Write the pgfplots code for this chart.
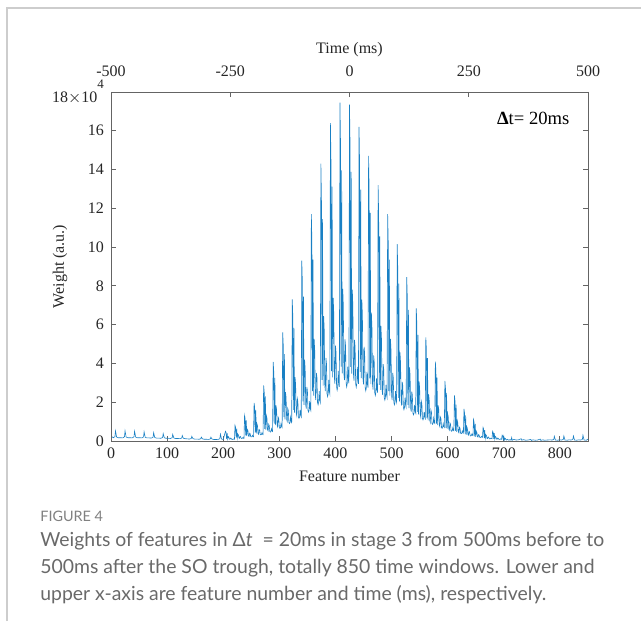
\documentclass[border=0pt]{standalone}
\usepackage{fontspec}
\setmainfont{Liberation Serif}
\newfontfamily\capfont{Lato}
\usepackage{pgfplots}
\pgfplotsset{compat=1.18}
\definecolor{mblue}{RGB}{0,114,189}
\definecolor{axgray}{RGB}{100,100,100}
\definecolor{labgray}{RGB}{38,38,38}
\definecolor{capgray}{RGB}{105,105,105}
\definecolor{framegray}{RGB}{205,205,205}

\pgfplotsset{
  wbox/.style={
    at={(0,0)}, anchor=south west, scale only axis,
    width=238.5pt, height=174.5pt,
    tick align=inside, major tick length=2.5pt,
    axis line style={axgray, line width=0.45pt},
    tick style={axgray, line width=0.45pt},
    tick label style={font=\fontsize{8}{9}\selectfont, text=labgray},
    label style={font=\fontsize{8}{9}\selectfont, text=labgray},
    /pgf/number format/assume math mode=true,
  }
}

\begin{document}
\begin{tikzpicture}[x=1pt,y=1pt]
\useasboundingbox (-55.5,-90) rectangle (265,220.5);
\draw[framegray, line width=0.8pt] (-52,-90) -- (-52,216.5) -- (265.5,216.5);

\begin{axis}[wbox,
  xmin=0, xmax=850, ymin=0, ymax=18,
  xtick={0,100,...,800}, ytick={0,2,...,18},
  yticklabels={0,2,4,6,8,10,12,14,16,{\raisebox{-4pt}{18$\times$10}\raisebox{3pt}{\fontsize{6.5}{7}\selectfont 4}}},
  xtick pos=left, xticklabel pos=left, ytick pos=both, yticklabel pos=left,
  xlabel={Feature number}, ylabel={Weight (a.u.)},
  xlabel style={at={(axis description cs:0.5,-0.1)}, anchor=center},
  ylabel style={at={(axis description cs:-0.107,0.5)}, anchor=center},
]
\addplot[mblue!90!white, line width=0.3pt] coordinates {
(0,0.25)(4,0.17)(7,0.22)(8,0.52)(10,0.2)(13,0.17)
(17,0.17)(21,0.16)(24,0.22)(25,0.52)(27,0.2)(30,0.17)
(34,0.17)(38,0.16)(41,0.22)(42,0.50)(44,0.2)(47,0.17)
(51,0.17)(55,0.16)(58,0.21)(59,0.47)(61,0.19)(64,0.16)
(68,0.16)(72,0.15)(75,0.2)(76,0.43)(78,0.18)(81,0.15)
(85,0.15)(89,0.14)(92,0.18)(93,0.38)(95,0.17)(98,0.14)
(102,0.14)(106,0.13)(109,0.17)(110,0.34)(112,0.15)(115,0.13)
(119,0.13)(123,0.12)(126,0.15)(127,0.28)(129,0.14)(132,0.12)
(136,0.11)(140,0.1)(143,0.13)(144,0.24)(146,0.12)(149,0.1)
(153,0.1)(157,0.09)(160,0.12)(161,0.2)(163,0.11)(166,0.09)
(170,0.09)(174,0.08)(177,0.11)(178,0.2)(180,0.1)(183,0.08)
(187,0.08)(190,0.07)(194,0.12)(195,0.35)(197,0.1)(200,0.08)
(204,0.50)(205,0.44)(206,0.11)(207,0.40)(208,0.10)(209,0.23)(210,0.20)(211,0.10)(212,0.09)(213,0.15)(214,0.14)(215,0.09)(216,0.08)(217,0.09)(218,0.11)(219,0.09)(220,0.09)
(221,0.80)(222,0.70)(223,0.18)(224,0.64)(225,0.16)(226,0.36)(227,0.32)(228,0.16)(229,0.14)(230,0.24)(231,0.22)(232,0.14)(233,0.13)(234,0.14)(235,0.18)(236,0.14)(237,0.14)
(238,1.32)(239,1.16)(240,0.29)(241,1.06)(242,0.26)(243,0.59)(244,0.53)(245,0.26)(246,0.24)(247,0.40)(248,0.37)(249,0.22)(250,0.21)(251,0.22)(252,0.29)(253,0.24)(254,0.22)
(255,1.97)(256,1.73)(257,0.43)(258,1.58)(259,0.39)(260,0.89)(261,0.79)(262,0.39)(263,0.35)(264,0.59)(265,0.55)(266,0.33)(267,0.32)(268,0.33)(269,0.43)(270,0.35)(271,0.33)
(272,2.87)(273,2.53)(274,0.63)(275,2.30)(276,0.57)(277,1.29)(278,1.15)(279,0.57)(280,0.52)(281,0.86)(282,0.80)(283,0.49)(284,0.46)(285,0.49)(286,0.63)(287,0.52)(288,0.49)
(289,4.08)(290,3.59)(291,0.90)(292,3.26)(293,0.82)(294,1.84)(295,1.63)(296,0.82)(297,0.73)(298,1.22)(299,1.14)(300,0.69)(301,0.65)(302,0.69)(303,0.90)(304,0.73)(305,0.69)
(306,5.60)(307,4.93)(308,1.23)(309,4.48)(310,1.12)(311,2.52)(312,2.24)(313,1.12)(314,1.01)(315,1.68)(316,1.57)(317,0.95)(318,0.90)(319,0.95)(320,1.23)(321,1.01)(322,0.95)
(323,7.30)(324,6.42)(325,1.61)(326,5.84)(327,1.46)(328,3.29)(329,2.92)(330,1.46)(331,1.31)(332,2.19)(333,2.04)(334,1.24)(335,1.17)(336,1.24)(337,1.61)(338,1.31)(339,1.24)
(340,9.30)(341,8.18)(342,2.05)(343,7.44)(344,1.86)(345,4.19)(346,3.72)(347,1.86)(348,1.67)(349,2.79)(350,2.60)(351,1.58)(352,1.49)(353,1.58)(354,2.05)(355,1.67)(356,1.58)
(357,11.70)(358,10.30)(359,2.57)(360,9.36)(361,2.34)(362,5.27)(363,4.68)(364,2.34)(365,2.11)(366,3.51)(367,3.28)(368,1.99)(369,1.87)(370,1.99)(371,2.57)(372,2.11)(373,1.99)
(374,14.30)(375,12.58)(376,3.15)(377,11.44)(378,2.86)(379,6.44)(380,5.72)(381,2.86)(382,2.57)(383,4.29)(384,4.00)(385,2.43)(386,2.29)(387,2.43)(388,3.15)(389,2.57)(390,2.43)
(391,16.40)(392,14.43)(393,3.61)(394,13.12)(395,3.28)(396,7.38)(397,6.56)(398,3.28)(399,2.95)(400,4.92)(401,4.59)(402,2.79)(403,2.62)(404,2.79)(405,3.61)(406,2.95)(407,2.79)
(408,17.45)(409,15.36)(410,3.84)(411,13.96)(412,3.49)(413,7.85)(414,6.98)(415,3.49)(416,3.14)(417,5.24)(418,4.89)(419,2.97)(420,2.79)(421,2.97)(422,3.84)(423,3.14)(424,2.97)
(425,17.35)(426,15.27)(427,3.82)(428,13.88)(429,3.47)(430,7.81)(431,6.94)(432,3.47)(433,3.12)(434,5.21)(435,4.86)(436,2.95)(437,2.78)(438,2.95)(439,3.82)(440,3.12)(441,2.95)
(442,16.20)(443,14.26)(444,3.56)(445,12.96)(446,3.24)(447,7.29)(448,6.48)(449,3.24)(450,2.92)(451,4.86)(452,4.54)(453,2.75)(454,2.59)(455,2.75)(456,3.56)(457,2.92)(458,2.75)
(459,14.70)(460,12.94)(461,3.23)(462,11.76)(463,2.94)(464,6.62)(465,5.88)(466,2.94)(467,2.65)(468,4.41)(469,4.12)(470,2.50)(471,2.35)(472,2.50)(473,3.23)(474,2.65)(475,2.50)
(476,13.20)(477,11.62)(478,2.90)(479,10.56)(480,2.64)(481,5.94)(482,5.28)(483,2.64)(484,2.38)(485,3.96)(486,3.70)(487,2.24)(488,2.11)(489,2.24)(490,2.90)(491,2.38)(492,2.24)
(493,11.70)(494,10.30)(495,2.57)(496,9.36)(497,2.34)(498,5.27)(499,4.68)(500,2.34)(501,2.11)(502,3.51)(503,3.28)(504,1.99)(505,1.87)(506,1.99)(507,2.57)(508,2.11)(509,1.99)
(510,10.15)(511,8.93)(512,2.23)(513,8.12)(514,2.03)(515,4.57)(516,4.06)(517,2.03)(518,1.83)(519,3.05)(520,2.84)(521,1.73)(522,1.62)(523,1.73)(524,2.23)(525,1.83)(526,1.73)
(527,8.45)(528,7.44)(529,1.86)(530,6.76)(531,1.69)(532,3.80)(533,3.38)(534,1.69)(535,1.52)(536,2.54)(537,2.37)(538,1.44)(539,1.35)(540,1.44)(541,1.86)(542,1.52)(543,1.44)
(544,6.84)(545,6.02)(546,1.50)(547,5.47)(548,1.37)(549,3.08)(550,2.74)(551,1.37)(552,1.23)(553,2.05)(554,1.92)(555,1.16)(556,1.09)(557,1.16)(558,1.50)(559,1.23)(560,1.16)
(561,5.35)(562,4.71)(563,1.18)(564,4.28)(565,1.07)(566,2.41)(567,2.14)(568,1.07)(569,0.96)(570,1.61)(571,1.50)(572,0.91)(573,0.86)(574,0.91)(575,1.18)(576,0.96)(577,0.91)
(578,4.09)(579,3.60)(580,0.90)(581,3.27)(582,0.82)(583,1.84)(584,1.64)(585,0.82)(586,0.74)(587,1.23)(588,1.15)(589,0.70)(590,0.65)(591,0.70)(592,0.90)(593,0.74)(594,0.70)
(595,3.10)(596,2.73)(597,0.68)(598,2.48)(599,0.62)(600,1.40)(601,1.24)(602,0.62)(603,0.56)(604,0.93)(605,0.87)(606,0.53)(607,0.50)(608,0.53)(609,0.68)(610,0.56)(611,0.53)
(612,2.35)(613,2.07)(614,0.52)(615,1.88)(616,0.47)(617,1.06)(618,0.94)(619,0.47)(620,0.42)(621,0.71)(622,0.66)(623,0.40)(624,0.38)(625,0.40)(626,0.52)(627,0.42)(628,0.40)
(629,1.65)(630,1.45)(631,0.36)(632,1.32)(633,0.33)(634,0.74)(635,0.66)(636,0.33)(637,0.30)(638,0.50)(639,0.46)(640,0.28)(641,0.26)(642,0.28)(643,0.36)(644,0.30)(645,0.28)
(646,1.10)(647,0.97)(648,0.24)(649,0.88)(650,0.22)(651,0.50)(652,0.44)(653,0.22)(654,0.20)(655,0.33)(656,0.31)(657,0.19)(658,0.18)(659,0.19)(660,0.24)(661,0.20)(662,0.19)
(663,0.70)(664,0.62)(665,0.15)(666,0.56)(667,0.14)(668,0.32)(669,0.28)(670,0.14)(671,0.13)(672,0.21)(673,0.20)(674,0.12)(675,0.11)(676,0.12)(677,0.15)(678,0.13)(679,0.12)
(680,0.50)(681,0.44)(682,0.11)(683,0.40)(684,0.10)(685,0.23)(686,0.20)(687,0.10)(688,0.09)(689,0.15)(690,0.14)(691,0.09)(692,0.08)(693,0.09)(694,0.11)(695,0.09)(696,0.09)
(697,0.30)(698,0.26)(699,0.07)(700,0.24)(701,0.06)(702,0.14)(703,0.12)(704,0.06)(705,0.05)(706,0.09)(707,0.08)(708,0.05)(709,0.05)(710,0.05)(711,0.07)(712,0.05)(713,0.05)
(714,0.18)(715,0.04)(718,0.08)(722,0.05)(726,0.06)
(731,0.12)(732,0.04)(735,0.07)(739,0.04)(743,0.05)
(748,0.08)(749,0.03)(752,0.06)(756,0.04)(760,0.05)
(765,0.10)(766,0.03)(769,0.06)(773,0.04)(777,0.05)
(782,0.06)(786,0.05)(789,0.08)(790,0.24)(792,0.05)(796,0.04)
(799,0.06)(803,0.05)(806,0.08)(807,0.26)(809,0.05)(813,0.04)
(816,0.06)(820,0.05)(823,0.08)(824,0.26)(826,0.05)(830,0.04)
(833,0.06)(837,0.05)(840,0.08)(841,0.30)(843,0.05)(847,0.04)(850,0.10)
};
\end{axis}

\begin{axis}[wbox,
  xmin=-500, xmax=500, ymin=0, ymax=1,
  xtick={-500,-250,0,250,500}, ytick=\empty,
  xtick pos=right, xticklabel pos=right,
  xticklabel style={yshift=4pt},
  xlabel={Time (ms)},
  xlabel style={at={(axis description cs:0.5,1.12)}, anchor=center},
]
\end{axis}

\node[anchor=west, font=\fontsize{9.3}{10}\selectfont, text=black] at (189.5,161.5) {\textbf{Δ}t= 20ms};

\node[anchor=base west, inner sep=0, font=\capfont\fontsize{7.2}{8}\selectfont, text=capgray!85] at (-35.5,-40) {FIGURE 4};
\begin{scope}[every node/.style={anchor=base west, inner sep=0, font=\capfont\fontsize{9.7}{12}\selectfont, text=capgray}]
\node at (-35.5,-52.5) {Weights of features in Δ\textit{t}\ \ = 20ms in stage 3 from 500ms before to};
\node at (-35.5,-66) {500ms after the SO trough, totally 850 time windows. Lower and};
\node at (-35.5,-79.5) {upper x-axis are feature number and time (ms), respectively.};
\end{scope}
\end{tikzpicture}
\end{document}
